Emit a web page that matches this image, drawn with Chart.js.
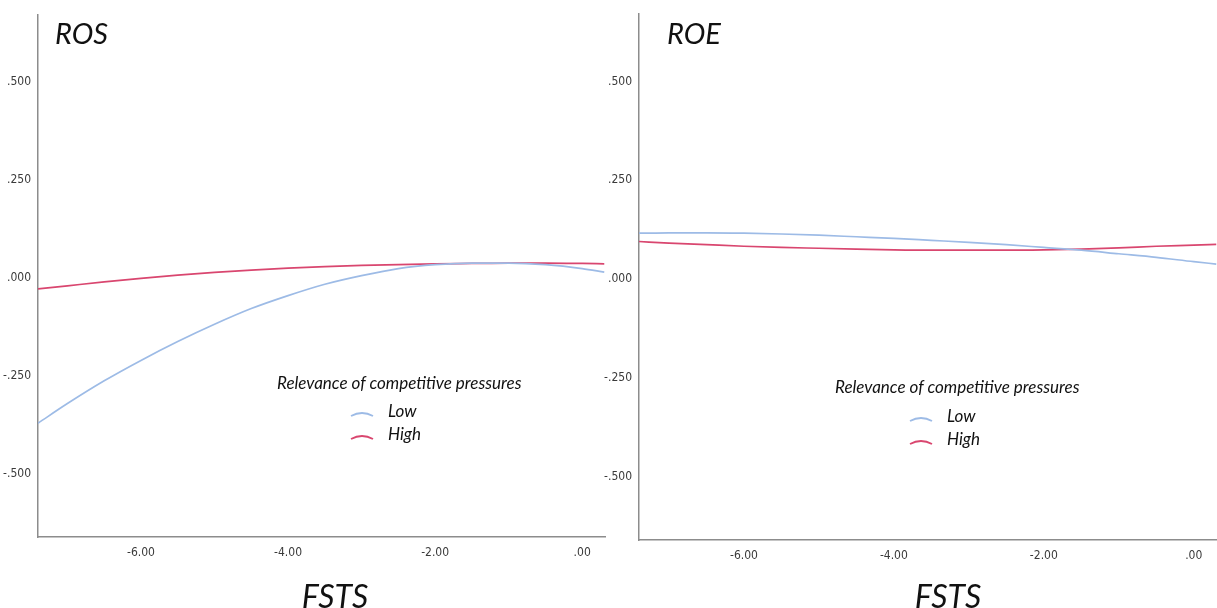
<!DOCTYPE html>
<html>
<head>
<meta charset="utf-8">
<script src="https://cdn.jsdelivr.net/npm/chart.js@4.4.1/dist/chart.umd.min.js"></script>
<style>
  body { margin: 0; background: #fff; }
  #wrap { position: relative; width: 1217px; height: 608px; overflow: hidden; background: #fff; }
  canvas { position: absolute; top: 0; }
  .panel-title { position: absolute; font: italic 29px Lato, "Noto Sans", sans-serif; line-height: 1; color: #111; }
  .axis-title { position: absolute; font: italic 32px Lato, "Noto Sans", sans-serif; line-height: 1; color: #111; transform: translateX(-50%); white-space: nowrap; }
  .legend { position: absolute; font: italic 17px Lato, "Noto Sans", sans-serif; line-height: 1; color: #111; }
  .legend .ttl { position: absolute; white-space: nowrap; }
  .legend .row { position: absolute; white-space: nowrap; }
  .legend svg { position: absolute; }
</style>
</head>
<body>
<div id="wrap">
  <canvas id="ros" width="608" height="608" style="left:0"></canvas>
  <canvas id="roe" width="617" height="608" style="left:600px"></canvas>
</div>
<script>
// FSTS values where the fitted curves are read
const fsts = [-7.4, -7, -6.5, -6, -5.5, -5, -4.5, -4, -3.5, -3, -2.5, -2, -1.5, -1, -0.5, 0, 0.3]

const rosLow = [-0.37, -0.32, -0.262, -0.21, -0.162, -0.118, -0.078, -0.045, -0.016, 0.006, 0.024, 0.034, 0.038, 0.038, 0.034, 0.024, 0.015]
const rosHigh = [-0.028, -0.02, -0.01, -0.001, 0.007, 0.014, 0.02, 0.025, 0.029, 0.032, 0.034, 0.036, 0.037, 0.038, 0.038, 0.037, 0.036]

const roeLow = [0.116, 0.117, 0.117, 0.116, 0.114, 0.111, 0.107, 0.103, 0.098, 0.093, 0.087, 0.080, 0.073, 0.064, 0.055, 0.044, 0.038]
const roeHigh = [0.095, 0.091, 0.087, 0.083, 0.080, 0.078, 0.076, 0.074, 0.073, 0.073, 0.073, 0.074, 0.076, 0.079, 0.083, 0.086, 0.088]

const seriesNames = ["Low", "High"]
const legendTitle = "Relevance of competitive pressures"
const xTicks = [-6, -4, -2, 0]
const yTicks = [-0.5, -0.25, 0, 0.25, 0.5]
const xTitle = "FSTS"

const colors = ["#9dbbe6", "#d9466f"]

function fmtY(v) {
  return v.toFixed(3).replace("0.", ".")
}
function fmtX(v) {
  return v === 0 ? ".00" : v.toFixed(2)
}

const tickFont = { family: "'Liberation Sans Narrow', 'Arial Narrow', 'DejaVu Sans Condensed', sans-serif", size: 12 }

function makeChart(id, low, high, box) {
  const pts = (arr) => arr.map((y, i) => ({ x: fsts[i], y: y }))
  return new Chart(document.getElementById(id), {
    type: "line",
    data: {
      datasets: [low, high].map((arr, i) => ({
        label: seriesNames[i],
        data: pts(arr),
        borderColor: colors[i],
        borderWidth: 1.7,
        pointRadius: 0,
        cubicInterpolationMode: "monotone",
        fill: false,
      })),
    },
    options: {
      responsive: false,
      animation: false,
      layout: { padding: { top: box.top, right: box.right, left: 0, bottom: 0 } },
      plugins: { legend: { display: false }, tooltip: { enabled: false } },
      scales: {
        x: {
          type: "linear",
          min: -7.4,
          max: 0.31,
          afterBuildTicks: (s) => { s.ticks = xTicks.map(v => ({ value: v })) },
          afterFit: (s) => { s.height = box.xh },
          grid: { display: false, drawTicks: false },
          border: { display: true, color: "#8c8c8c", width: 1.5 },
          ticks: { padding: 9, color: "#3a3a3a", font: tickFont, callback: (v) => fmtX(v) },
        },
        y: {
          type: "linear",
          min: -0.66,
          max: 0.67,
          afterBuildTicks: (s) => { s.ticks = yTicks.map(v => ({ value: v })) },
          afterFit: (s) => { s.width = box.yw },
          grid: { display: false, drawTicks: false },
          border: { display: true, color: "#8c8c8c", width: 1.5 },
          ticks: { padding: 7, color: "#3a3a3a", font: tickFont, callback: (v) => fmtY(v) },
        },
      },
    },
  })
}

makeChart("ros", rosLow, rosHigh, { top: 15, right: 3, xh: 71, yw: 38 })
makeChart("roe", roeLow, roeHigh, { top: 13, right: 0, xh: 68, yw: 39 })

// panel titles, axis titles and legends as overlays
const wrap = document.getElementById("wrap")
function addText(cls, text, left, top) {
  const d = document.createElement("div")
  d.className = cls
  d.style.left = left + "px"
  d.style.top = top + "px"
  d.textContent = text
  wrap.appendChild(d)
}
addText("panel-title", "ROS", 55, 18)
addText("panel-title", "ROE", 667, 18)
addText("axis-title", xTitle, 335, 580)
addText("axis-title", xTitle, 948, 580)

function addLegend(pos) {
  const lg = document.createElement("div")
  lg.className = "legend"
  lg.style.left = "0px"
  lg.style.top = "0px"
  const t = document.createElement("div")
  t.className = "ttl"
  t.style.left = pos.tx + "px"
  t.style.top = pos.ty + "px"
  t.textContent = legendTitle
  lg.appendChild(t)
  seriesNames.forEach((name, i) => {
    const r = document.createElement("div")
    r.className = "row"
    r.style.left = pos.lx + "px"
    r.style.top = (pos.ly + i * 23) + "px"
    r.textContent = name
    lg.appendChild(r)
    const svg = document.createElementNS("http://www.w3.org/2000/svg", "svg")
    svg.setAttribute("width", "24")
    svg.setAttribute("height", "8")
    svg.style.left = pos.sx + "px"
    svg.style.top = (pos.ly + 8 + i * 23) + "px"
    const p = document.createElementNS("http://www.w3.org/2000/svg", "path")
    p.setAttribute("d", "M1,6 Q12,0 23,6")
    p.setAttribute("stroke", colors[i])
    p.setAttribute("stroke-width", "1.8")
    p.setAttribute("fill", "none")
    svg.appendChild(p)
    lg.appendChild(svg)
  })
  wrap.appendChild(lg)
}
addLegend({ tx: 277, ty: 374, lx: 388, ly: 402, sx: 350 })
addLegend({ tx: 835, ty: 378, lx: 947, ly: 407, sx: 909 })
</script>
</body>
</html>
